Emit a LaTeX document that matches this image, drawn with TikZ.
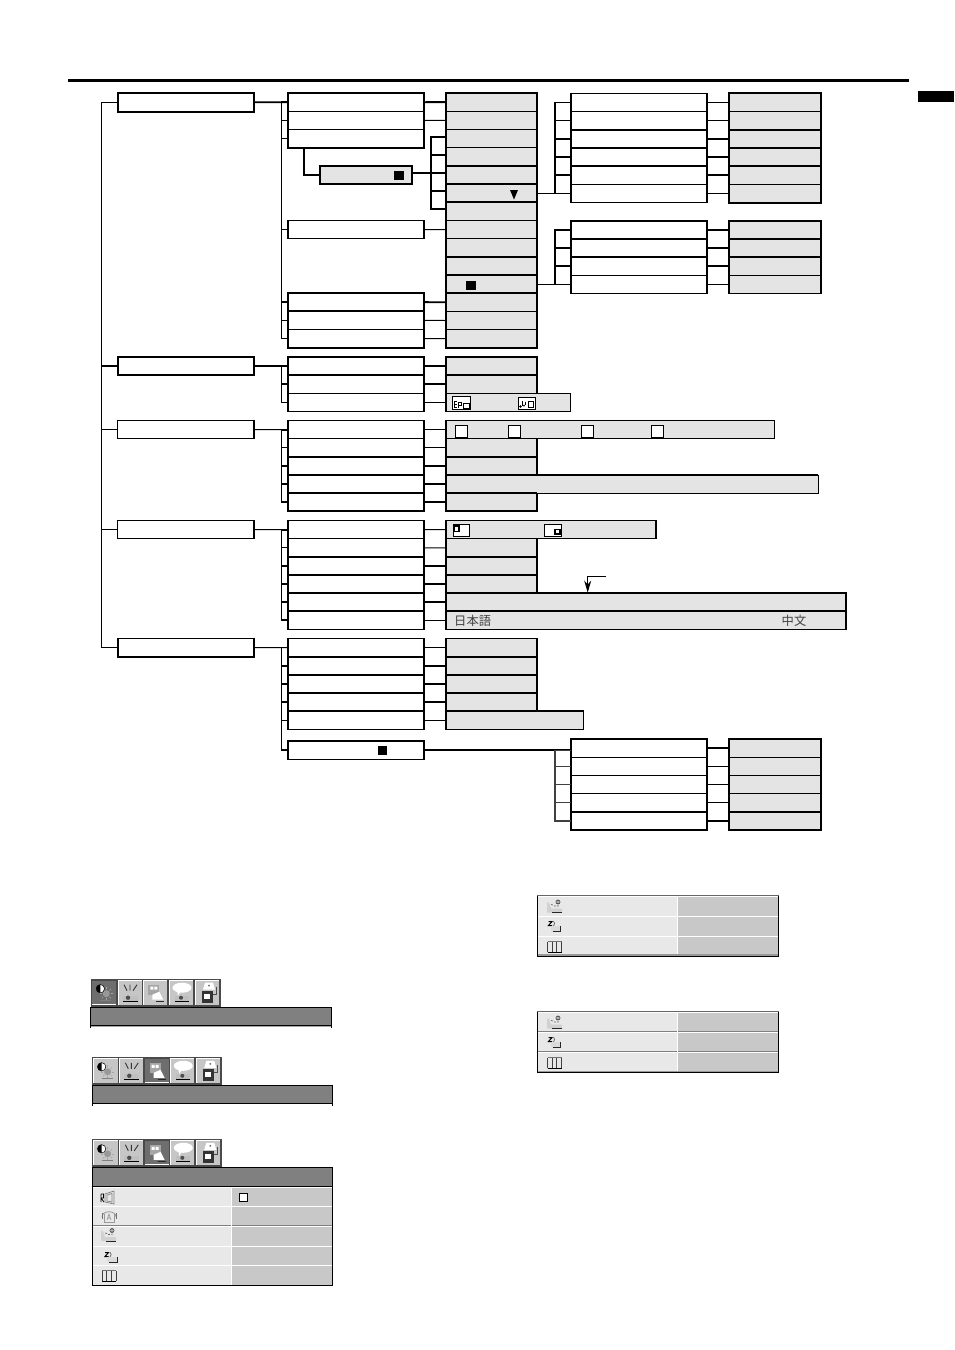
\documentclass[tikz,border=0pt]{standalone}
\usepackage{fontspec}
\newfontfamily\cjkfont{Noto Sans CJK JP}
\usetikzlibrary{arrows.meta,calc}
\definecolor{lg}{HTML}{E4E4E4}
\definecolor{rowl}{HTML}{E8E8E8}
\definecolor{rowr}{HTML}{C8C8C8}
\definecolor{barg}{HTML}{808080}
\definecolor{tbd}{HTML}{4A4A4A}
\definecolor{btn}{HTML}{C6C6C6}
\definecolor{btns}{HTML}{6E6E6E}
\tikzset{
  base/.style={rectangle,inner sep=0pt,outer sep=0pt,anchor=north west},
  wb/.style={base,draw=black,fill=white,line width=1.3pt},
  gb/.style={base,draw=black,fill=lg,line width=1.3pt},
  tk/.style={line width=1.8pt,line cap=butt},
  tn/.style={line width=1pt,line cap=butt},
  frame/.style={line width=1.8pt},
  mk/.style={base,fill=black,draw=none},
  ck/.style={base,draw=black,fill=white,line width=1pt},
}
\newcommand\bx[6]{%
  \pgfmathsetmacro\bxw{#5-(#3)}\pgfmathsetmacro\bxh{#6-(#4)}%
  \node[#1,minimum width=\bxw pt,minimum height=\bxh pt] (#2) at (#3,#4) {};}
\newcommand\cols[5]{% style,prefix,x1,x2,list y1/y2
  \foreach \ya/\yb [count=\i] in {#5}{\bx{#1}{#2\i}{#3}{\ya}{#4}{\yb}}}
\newcommand\hvy[1]{\foreach \n in {#1}{\draw[frame] (\n.north west) -- (\n.north east);}}
\newcommand\fr[2]{\draw[frame] (#1.north west) rectangle (#2.south east);}
\newcommand\btnicon[1]{%
 \ifcase#1\or
  \fill[gray!80] (14,13) circle (3.5);
  \foreach \a in {0,45,...,315}{\draw[gray!70,line width=.6pt] (14,13)+(\a:4.5) -- +(\a:6.5);}
  \fill[white] (8,8) circle (4.2);
  \fill[black] (8,12.2) arc (90:270:4.2) -- cycle;
  \draw[black,line width=.5pt] (8,8) circle (4.2);
  \draw[gray,line width=1pt] (8,20) -- (19,20);
 \or
  \draw[black!80,line width=.9pt] (6,4) -- (9,10) (12,4) -- (12,10) (19,4) -- (15,10);
  \fill[black!25] (5,15) rectangle (20,20);
  \draw[black,line width=1pt] (5,21) -- (20,21);
  \fill[black!70] (10,17) circle (2.2);
 \or
  \fill[black!35] (5,4) rectangle (16,14);
  \fill[white] (7,6) rectangle (10,9) (11,6) rectangle (14,9);
  \fill[white] (9,14) -- (16,11) -- (20,19) -- (9,19) -- cycle;
  \draw[black!85,line width=1.1pt] (13,21) -- (21,21);
 \or
  \fill[white] (13,7) ellipse (9.5 and 5);
  \fill[white] (8,10) -- (12,10) -- (9,15) -- cycle;
  \fill[black!25] (6,15) rectangle (20,20);
  \draw[black,line width=1pt] (6,21) -- (20,21);
  \fill[black!70] (12,17) circle (2);
 \or
  \fill[white] (8,9) -- (10,2) -- (18,2) -- (20,9) -- cycle;
  \fill[black!60] (14,5) circle (1);
  \fill[black!80] (7,10) rectangle (18,22);
  \fill[white] (9,13) rectangle (15,18);
  \draw[black!70,line width=.7pt] (18,14) -- (21,14) -- (21,6);
 \fi}
\newcommand\rowicon[1]{%
 \ifcase#1\or
  \draw[black,line width=.8pt] (0,3) -- (0,11) (0,3) -- (2.5,3) -- (2.5,7) -- (0,7) (0,7) -- (3,11);
  \draw[black!50,line width=.7pt] (4,3) -- (13,0) -- (13,13) -- (4,11) -- cycle (6,4) -- (11,2.5) -- (11,11) -- (6,10) -- cycle;
 \or
  \draw[black!40,line width=.8pt] (0,8) .. controls (0,1) and (14,1) .. (14,8);
  \draw[black!40,line width=.7pt] (2,5) -- (2,13) -- (12,13) -- (12,5);
  \draw[black!45,line width=.6pt] (5,11) -- (7,5) -- (9,11) (5.6,9) -- (8.4,9);
  \draw[black!55,line width=.9pt] (0,4) -- (0,10) (14,4) -- (14,10);
 \or
  \fill[black!18] (0,3) -- (0,13) -- (15,13) -- (15,9) -- (4,9) -- (2,3) -- cycle;
  \draw[black!60,line width=.7pt] (4,5) -- (6,5.5) (7,6.5) -- (9,6.5);
  \draw[black!70,line width=.7pt] (11,2.5) circle (2) (11,1) -- (11,4) (11,5.5) -- (11,7);
  \draw[black!85,line width=1pt] (5,13) -- (15,13);
 \or
  \draw[black,line width=1pt] (0,.5) -- (3.5,.5) -- (0,4.5) -- (3.5,4.5);
  \draw[black!60,line width=.7pt] (5,0) .. controls (6.5,1.5) and (6.5,3.5) .. (5,5);
  \fill[black!14] (2,5) rectangle (12,10);
  \draw[black!85,line width=.9pt] (4,10) -- (12,10) -- (12,5);
 \or
  \draw[black!55,line width=.8pt] (0,.5) -- (14,.5);
  \draw[black!75,line width=.9pt] (0,.5) -- (0,11) (4.7,.5) -- (4.7,11) (9.4,.5) -- (9.4,11) (14,.5) -- (14,11);
  \draw[black,line width=1.2pt] (0,11.5) -- (14,11.5);
 \fi}
\newcommand\toolbar[4]{% prefix,x,y,selected index
  \bx{base,fill=tbd}{#1bg}{#2}{#3}{#2+130}{#3+27.5}
  \foreach \k/\bxx in {1/1.3,2/27,3/52.3,4/78,5/104}{%
    \pgfmathtruncatemacro\issel{\k==#4 ? 1 : 0}%
    \ifnum\issel=1
      \bx{base,fill=btns}{#1b\k}{#2+\bxx}{#3+1.4}{#2+\bxx+24}{#3+25.2}
      \draw[white,line width=.8pt] (#1b\k.south west) -- (#1b\k.south east);
    \else
      \bx{base,fill=btn}{#1b\k}{#2+\bxx}{#3+1.4}{#2+\bxx+24}{#3+25.2}
      \draw[white,line width=.7pt] (#1b\k.south west) -- (#1b\k.north west) -- (#1b\k.north east);
    \fi
    \begin{scope}[shift={(#1b\k.north west)}]\btnicon{\k}\end{scope}
  }}
\begin{document}
\begin{tikzpicture}[x=1pt,y=-1pt]
\useasboundingbox (0,0) rectangle (954,1350);
\fill[white] (0,0) rectangle (954,1350);
% header
\node[base,fill=black,minimum width=841pt,minimum height=3pt] (rule) at (68,79) {};
\node[base,fill=black,minimum width=36pt,minimum height=11pt] (tab) at (918,91) {};
% level 1
\bx{wb}{ta}{117.7}{93}{254}{111.6}
\bx{wb}{tb}{117.7}{356.8}{254}{375}
\bx{wb}{tc}{117.7}{420.4}{254}{438.6}
\bx{wb}{td}{117.7}{520.4}{254}{538.6}
\bx{wb}{te}{117.7}{638.4}{254}{656.6}
\fr{ta}{ta}\fr{tb}{tb}\fr{te}{te}
\draw[line width=1.4pt] (ta.west) -- ++(-16.2,0) |- (te.west);
\draw[tk] (tb.west) -- ++(-16.2,0);
\draw[tn] (tc.west) -- ++(-16.2,0);
\draw[tn] (td.west) -- ++(-16.2,0);
% ---- group A
\cols{wb}{a}{288}{424}{93/111.3,111.3/129.5,129.5/147.7}
\bx{wb}{a4}{288}{220.6}{424}{238.6}
\bx{wb}{a5}{288}{293}{424}{311.2}
\bx{wb}{a6}{288}{311.2}{424}{329.6}
\bx{wb}{a7}{288}{329.6}{424}{347.6}
\cols{gb}{c}{446}{537}{93/111.2,111.2/129.4,129.4/147.6,147.6/165.8,165.8/184,184/202.2,202.2/220.4,220.4/238.6,238.6/256.8,256.8/275,275/293.2,293.2/311.4,311.4/329.6,329.6/347.7}
\hvy{c5,c6,c7,c10,c12,c13,a6}
\fr{a1}{a3}\fr{a5}{a7}\fr{c1}{c14}
\bx{gb}{s}{320.3}{165.7}{411.7}{184.3}
\fr{s}{s}
\node[mk,minimum width=10pt,minimum height=9pt] (sq1) at (394,171) {};
\node[mk,minimum width=9.5pt,minimum height=9pt] (sq2) at (466,281) {};
\fill[black] (510,190) -- (518,190) -- (514,199.5) -- cycle;
\draw[tk] (ta.east) -- (a1.west);
\draw[line width=1.6pt] (a1.west) -- ++(-6.7,0) |- (a7.west);
\foreach \n in {a2,a3,a4,a6}{\draw[tn] (\n.west) -- ++(-6.7,0);}
\draw[tk] (a5.west) -- ++(-6.7,0);
\draw[tk] (a1.east) -- (c1.west);
\draw[tn] (a2.east) -- (c2.west);
\draw[tn] (a4.east) -- (c8.west);
\draw[tk] (a5.east) -- (c12.west);
\draw[tn] (a6.east) -- (c13.west);
\draw[tn] (a7.east) -- (c14.west);
\draw[tk] ([xshift=-52pt]a3.south) |- (s.west);
\draw[tk] ([yshift=2pt]s.east) -- ([yshift=1.9pt]c5.west);
\draw[line width=1.5pt] ([yshift=1.5pt]c3.west) -- ++(-15,0) -- ++(0,72) -- ++(15,0);
\foreach \n in {c4,c6}{\draw[tk] ([yshift=1.9pt]\n.west) -- ++(-15,0);}
% upper right groups
\cols{wb}{d}{570.7}{707.3}{93.3/111.4,111.4/129.6,129.6/147.8,147.8/166,166/184.2,184.2/202.6}
\cols{gb}{e}{728.7}{820.7}{93.3/111.4,111.4/129.6,129.6/147.8,147.8/166,166/184.2,184.2/202.6}
\cols{wb}{f}{570.7}{707.3}{220.8/239,239/257.2,257.2/275.4,275.4/293.4}
\cols{gb}{g}{728.7}{820.7}{220.8/239,239/257.2,257.2/275.4,275.4/293.4}
\hvy{d3,d4,d5,e3,e4,e5,f1,f2,f3,f4,g1,g2,g3,g4}
\draw[frame] (d1.north west) -- (d6.south west) (d1.north east) -- (d6.south east);
\draw[frame] (f1.north west) -- (f4.south west) (f1.north east) -- (f4.south east);
\fr{e1}{e6}\fr{g1}{g4}
\draw[tn] (c6.east) -- (c6.east -| d6.west);
\draw[tn] (c11.east) -- (c11.east -| f4.west);
\draw[line width=1.5pt] (d1.west) -- ++(-15.7,0) |- (d6.west);
\draw[tn] (d1.west) -- ++(-15.7,0);
\draw[tn] (d6.west) -- ++(-15.7,0);
\foreach \n in {d2,d3,d4,d5}{\draw[tk] (\n.west) -- ++(-15.7,0);}
\draw[line width=1.5pt] (f1.west) -- ++(-15.7,0) |- (f4.west);
\foreach \n in {f2,f3}{\draw[tk] (\n.west) -- ++(-15.7,0);}
\draw[tn] (f4.west) -- ++(-15.7,0);
\draw[tn] (d1.east) -- (e1.west); \draw[tn] (d6.east) -- (e6.west);
\foreach \p/\q in {d2/e2,d3/e3,d4/e4,d5/e5,f1/g1,f2/g2,f3/g3}{\draw[tk] (\p.east) -- (\q.west);}
\draw[tn] (f4.east) -- (g4.west);
% ---- group B
\cols{wb}{h}{288}{424}{357/375.2,375.2/393.4,393.4/411.4}
\bx{gb}{i1}{446}{357}{537}{375.2}
\bx{gb}{i2}{446}{375.2}{537}{393.4}
\bx{gb}{i3}{446}{393.4}{570.7}{411.4}
\hvy{h2,h3,i2,i3}
\fr{h1}{h3}\draw[frame] (i1.north west) -- (i1.north east) -- (i2.south east) (i1.north west) -- (i3.south west);
\draw[tk] (tb.east) -- (h1.west);
\draw[line width=1.6pt] (h1.west) -- ++(-6.7,0) |- (h3.west);
\draw[tk] (h2.west) -- ++(-6.7,0);
\foreach \n in {1,2,3}{\draw[tk] (h\n.east) -- (i\n.west);}
\bx{base,draw=black,fill=white,line width=.8pt}{ib1}{452.3}{396.4}{470}{409}
\fill[white] (463,403) rectangle (469,408); \draw[black,line width=1pt] (463,403) rectangle (469,408);
\draw[black,line width=.7pt] (454,401) -- (454,407) (454,401) -- (457,401) (454,404) -- (456.5,404) (454,407) -- (457,407) (458.5,402) -- (458.5,407.5) (458.5,402) -- (461,402) -- (461,405) -- (458.5,405);
\bx{base,draw=black,fill=white,line width=.8pt}{ib2}{518.2}{397.6}{535}{409.4}
\draw[black,line width=.9pt] (528,401.5) rectangle (533,407);
\draw[black,line width=1pt] (522,400.8) -- (522,406) (525,402) -- (525,405);
\fill[black] (520.5,406.5) circle (1.4) (524,405.6) circle (1);
% ---- group C
\cols{wb}{j}{288}{424}{420.6/438.8,438.8/457,457/475.2,475.2/493.2,493.2/511.2}
\bx{gb}{k1}{446}{420.6}{774.3}{438.8}
\bx{gb}{k2}{446}{438.8}{537}{457}
\bx{gb}{k3}{446}{457}{537}{475.2}
\bx{gb}{k5}{446}{493.2}{537}{511.2}
\bx{gb}{k4}{446}{475.2}{818.3}{493.2}
\hvy{j3,j4,j5,k3,k4,k5}
\draw[frame] (j1.north west) -- (j5.south west) -- (j5.south east) -- (j1.north east);
\draw[frame] (k2.north east) -- (k3.south east) (k5.north east) -- (k5.south east) -- (k5.south west);
\foreach \x/\nn in {455.4/c1,508.4/c2,581.4/c3,651.4/c4}{\bx{ck}{\nn x}{\x}{425.5}{\x+11.8}{437.4}}
\draw[tn] (tc.east) -- (j1.west);
\draw[line width=1.6pt] (j1.west) -- ++(-6.7,0) |- (j5.west);
\draw[tn] (j1.west) -- ++(-6.7,0);
\draw[tn] (j2.west) -- ++(-6.7,0);
\foreach \n in {3,4}{\draw[tk] (j\n.west) -- ++(-6.7,0);}
\draw[tn] (j1.east) -- (k1.west); \draw[tn] (j2.east) -- (k2.west);
\foreach \n in {3,4,5}{\draw[tk] (j\n.east) -- (k\n.west);}
% ---- group D
\cols{wb}{l}{288}{424}{520.6/538.8,538.8/557,557/575.2,575.2/593,593/611,611/629.4}
\bx{gb}{m1}{446}{520.6}{656.3}{538.6}
\bx{gb}{m2}{446}{538.6}{537}{557}
\bx{gb}{m3}{446}{557}{537}{575.2}
\bx{gb}{m4}{446}{575.2}{537}{593}
\bx{gb}{m5}{446}{593}{846.3}{611}
\bx{gb}{m6}{446}{611}{846.3}{629.4}
\hvy{l3,l4,l5,l6,m3,m4,m5,m6}
\draw[frame] (l1.north west) -- (l6.south west) -- (l6.south east) -- (l1.north east);
\draw[frame] (m1.north east) -- (m1.south east) (m2.north east) -- (m4.south east) (m5.north east) -- (m6.south east);
\bx{base,draw=black,fill=white,line width=.9pt}{id1}{453.4}{524}{469.7}{536.7}
\fill[black] (453.4,524) rectangle (459.6,532.4);
\fill[white] (454.8,527) rectangle (458.4,531);
\bx{base,draw=black,fill=white,line width=.9pt}{id2}{544.4}{524.3}{561.6}{536.7}
\draw[black,line width=1.2pt] (555,529.5) rectangle (560,534);
\fill[white] (556,530.5) rectangle (559,532.4);
\coordinate (arrs) at (605.7,576.8);
\coordinate (arre) at (587.7,592.6);
\draw[line width=1pt,-{Stealth[length=12pt,width=7pt]}] (arrs) -| (arre);
\node[anchor=west,inner sep=0pt,text=black!75,font=\cjkfont\fontsize{12.3}{13}\selectfont] (jp1) at (454,621) {日本語};
\node[anchor=west,inner sep=0pt,text=black!75,font=\cjkfont\fontsize{12.3}{13}\selectfont] (jp2) at (781.5,621) {中文};
\draw[tn] (td.east) -- (l1.west);
\draw[line width=1.6pt] (l1.west) -- ++(-6.7,0) |- (l6.west);
\draw[tn] (l1.west) -- ++(-6.7,0);
\draw[tn] (l6.west) -- ++(-6.7,0);
\draw[tn] (l2.west) -- ++(-6.7,0);
\foreach \n in {3,4,5}{\draw[tk] (l\n.west) -- ++(-6.7,0);}
\draw[tn] (l1.east) -- (m1.west); \draw[tn] (l2.east) -- (m2.west); \draw[tn] (l6.east) -- (m6.west);
\foreach \n in {3,4,5}{\draw[tk] (l\n.east) -- (m\n.west);}
% ---- group E
\cols{wb}{n}{288}{424}{638.6/656.8,656.8/675,675/693.2,693.2/711.2,711.2/729.6}
\bx{wb}{n6}{288}{741}{424}{759.4}
\bx{gb}{o1}{446}{638.6}{537}{656.8}
\bx{gb}{o2}{446}{656.8}{537}{675}
\bx{gb}{o3}{446}{675}{537}{693.2}
\bx{gb}{o4}{446}{693.2}{537}{711.2}
\bx{gb}{o5}{446}{711.2}{583.5}{729.6}
\hvy{n2,n3,n4,n5,o2,o3,o4,o5}
\fr{n6}{n6}
\node[mk,minimum width=9pt,minimum height=9pt] (sq3) at (378,746) {};
\cols{wb}{p}{570.7}{707.3}{739.2/757.4,757.4/775.6,775.6/793.8,793.8/812,812/830}
\cols{gb}{q}{728.7}{820.7}{739.2/757.4,757.4/775.6,775.6/793.8,793.8/812,812/830}
\hvy{p2,q2}
\fr{p1}{p5}\fr{q1}{q5}
\draw[tn] (te.east) -- (n1.west);
\draw[line width=1.5pt] (n1.west) -- ++(-6.7,0) |- (n6.west);
\foreach \n in {1,5}{\draw[tn] (n\n.west) -- ++(-6.7,0);}
\foreach \n in {2,3,4}{\draw[tk] (n\n.west) -- ++(-6.7,0);}
\draw[tn] (n1.east) -- (o1.west);
\foreach \n in {2,3,4}{\draw[tk] (n\n.east) -- (o\n.west);}
\draw[tn] (n5.east) -- (o5.west);
\draw[tk] (n6.east) -- (n6.east -| p1.west);
\draw[black!75,line width=1.4pt] (n6.east -| p1.west) -- ++(-15.7,0) |- (p5.west);
\foreach \n in {2,3,4}{\draw[black!75,tn] (p\n.west) -- ++(-15.7,0);}
\foreach \n in {1,2,5}{\draw[tk] (p\n.east) -- (q\n.west);}
\foreach \n in {3,4}{\draw[tn] (p\n.east) -- (q\n.west);}
% ---- toolbars
\toolbar{u}{91}{979.3}{1}
\bx{base,fill=barg,draw=black,line width=.9pt}{ubar}{90.8}{1007.4}{331.6}{1025.6}
\draw[black,line width=.8pt] (ubar.south west) -- ++(0,2) (ubar.south east) -- ++(0,2);
\fill[black!35] (91.2,1026.2) rectangle (331.2,1027.4);
\toolbar{v}{92.3}{1057.4}{3}
\bx{base,fill=barg,draw=black,line width=.9pt}{vbar}{92.5}{1085.4}{332.6}{1103.6}
\draw[black,line width=.8pt] (vbar.south west) -- ++(0,2) (vbar.south east) -- ++(0,2);
\toolbar{w}{92.3}{1139.4}{3}
\bx{base,fill=barg,draw=black,line width=.9pt}{wbar}{92.5}{1167.4}{332.6}{1186.8}
\foreach \i/\ya/\yb in {1/1187/1206,2/1206/1225.7,3/1225.7/1245.3,4/1245.3/1265,5/1265/1285}{
  \bx{base,fill=rowl}{wl\i}{92.5}{\ya}{231.3}{\yb}
  \bx{base,fill=rowr}{wr\i}{231.3}{\ya}{332.6}{\yb}
  \draw[black!50,line width=.8pt] (wl\i.south west) -- (wr\i.south east);
  \draw[white,line width=.8pt] ([yshift=-.6pt]wl\i.north west) -- ([yshift=-.6pt]wr\i.north east);
  \draw[white,line width=.8pt] (wl\i.north east) -- (wl\i.south east);
}
\draw[black,line width=.9pt] (wl1.north west) -- (wl5.south west) -- (wr5.south east) -- (wr1.north east);
\bx{ck}{wck}{239.8}{1193.8}{247}{1201.2}
\foreach \i/\xx/\yy in {1/101/1191,2/102/1209,3/101/1228,4/105/1252,5/102/1270}{
  \begin{scope}[shift={(\xx,\yy)}]\rowicon{\i}\end{scope}
}
% ---- right tables
\foreach \t/\ya/\yb/\yc/\yd in {x/895.8/916/936/956, y/1011.8/1031.8/1051.8/1072.6}{
  \foreach \r/\p/\q in {1/\ya/\yb,2/\yb/\yc,3/\yc/\yd}{
    \bx{base,fill=rowl}{\t l\r}{537.4}{\p}{677}{\q}
    \bx{base,fill=rowr}{\t r\r}{677}{\p}{778.8}{\q}
    \draw[black!50,line width=.8pt] (\t l\r.south west) -- (\t r\r.south east);
    \draw[white,line width=.8pt] ([yshift=-.6pt]\t l\r.north west) -- ([yshift=-.6pt]\t r\r.north east);
    \draw[white,line width=.8pt] (\t l\r.north east) -- (\t l\r.south east);
  }
  \fill[black!40] ([yshift=1.8pt]\t l3.south west) rectangle (\t r3.south east);
  \draw[black!60,line width=.9pt] (\t l1.north west) -- (\t r1.north east);
  \draw[black,line width=1pt] (\t l1.north west) -- (\t l3.south west) -- (\t r3.south east) -- (\t r1.north east);
}
\foreach \xx/\yy/\ic in {547/899.5/3,548.5/921/4,547.5/941/5,547/1015.5/3,548.5/1037/4,547.5/1057/5}{
  \begin{scope}[shift={(\xx,\yy)}]\rowicon{\ic}\end{scope}
}
\end{tikzpicture}
\end{document}
